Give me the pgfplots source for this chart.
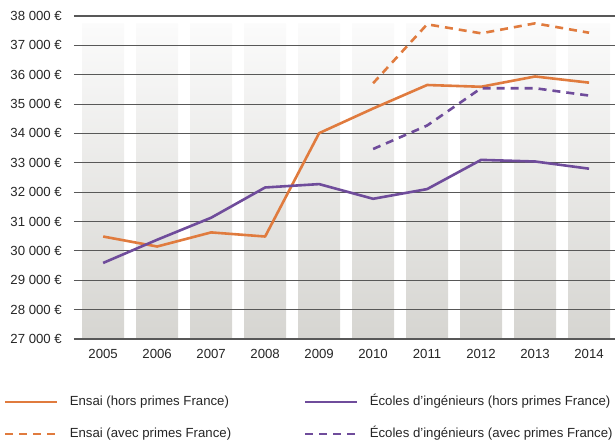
\documentclass[border=0pt]{standalone}
\usepackage{fontspec}
\setmainfont{Liberation Sans}
\usepackage{pgfplots}
\pgfplotsset{compat=1.18}
\definecolor{ensai}{HTML}{E07B3E}
\definecolor{ecoles}{HTML}{6F4C9B}
\definecolor{gridc}{HTML}{585858}
\definecolor{bartop}{HTML}{FBFBFB}
\definecolor{barbot}{HTML}{D6D5D1}
\definecolor{txt}{HTML}{262626}

\begin{document}
\begin{tikzpicture}[every node/.style={font=\fontsize{13.2bp}{16bp}\selectfont, text=txt}]
% background columns
\begin{axis}[
  scale only axis, width=541bp, height=323bp,
  xmin=2004.46, xmax=2014.48, ymin=0, ymax=11000,
  hide axis, scaled y ticks=false,
]
  \addplot[ybar, bar width=0.78, draw=none, top color=bartop, bottom color=barbot]
    coordinates {(2005,10750)(2006,10750)(2007,10750)(2008,10750)(2009,10750)
                 (2010,10750)(2011,10750)(2012,10750)(2013,10750)(2014,10750)};
\end{axis}
% salaries
\begin{axis}[
  scale only axis, width=541bp, height=323bp,
  xmin=2004.46, xmax=2014.48, ymin=27000, ymax=38000,
  scaled y ticks=false,
  axis line style={draw=none}, major tick length=0pt,
  xtick={2005,...,2014},
  xticklabels={2005,2006,2007,2008,2009,2010,2011,2012,2013,2014},
  ytick={27000,28000,...,38000},
  yticklabels={27 000 €,28 000 €,29 000 €,30 000 €,31 000 €,32 000 €,
               33 000 €,34 000 €,35 000 €,36 000 €,37 000 €,38 000 €},
  ymajorgrids, grid style={gridc, line width=1.1bp},
  yticklabel style={inner sep=0pt, anchor=east, xshift=-12bp},
  xticklabel style={inner sep=0pt, anchor=north, yshift=-10bp},
  every axis plot/.append style={line width=2.6bp, line join=round},
  legend columns=2, legend cell align=left,
  legend style={draw=none, fill=none, inner sep=0pt, at={(-0.1294,-0.174)}, anchor=north west,
    row sep=19bp, nodes={inner sep=0pt, text height=10bp, text depth=3bp},
    /tikz/every odd column/.append style={column sep=11bp},
    /tikz/every even column/.append style={column sep=73bp}},
  legend image code/.code={\draw[#1] (0bp,0bp) -- (52bp,0bp);},
]
  \addplot[ensai] coordinates {(2005,30490)(2006,30150)(2007,30630)(2008,30490)(2009,34010)
    (2010,34850)(2011,35650)(2012,35590)(2013,35940)(2014,35730)};
  \addlegendentry{Ensai (hors primes France)}
  \addplot[ecoles] coordinates {(2005,29590)(2006,30380)(2007,31130)(2008,32160)(2009,32275)
    (2010,31775)(2011,32105)(2012,33100)(2013,33045)(2014,32800)};
  \addlegendentry{Écoles d’ingénieurs (hors primes France)}
  \addplot[ensai, dash pattern=on 8bp off 6bp] coordinates {(2010,35710)(2011,37717)
    (2012,37410)(2013,37750)(2014,37430)};
  \addlegendentry{Ensai (avec primes France)}
  \addplot[ecoles, dash pattern=on 8bp off 6bp] coordinates {(2010,33470)(2011,34270)
    (2012,35540)(2013,35540)(2014,35290)};
  \addlegendentry{Écoles d’ingénieurs (avec primes France)}
\end{axis}
\pgfresetboundingbox
\path[use as bounding box] (-74bp,-102bp) rectangle (541bp,339bp);
\end{tikzpicture}
\end{document}
